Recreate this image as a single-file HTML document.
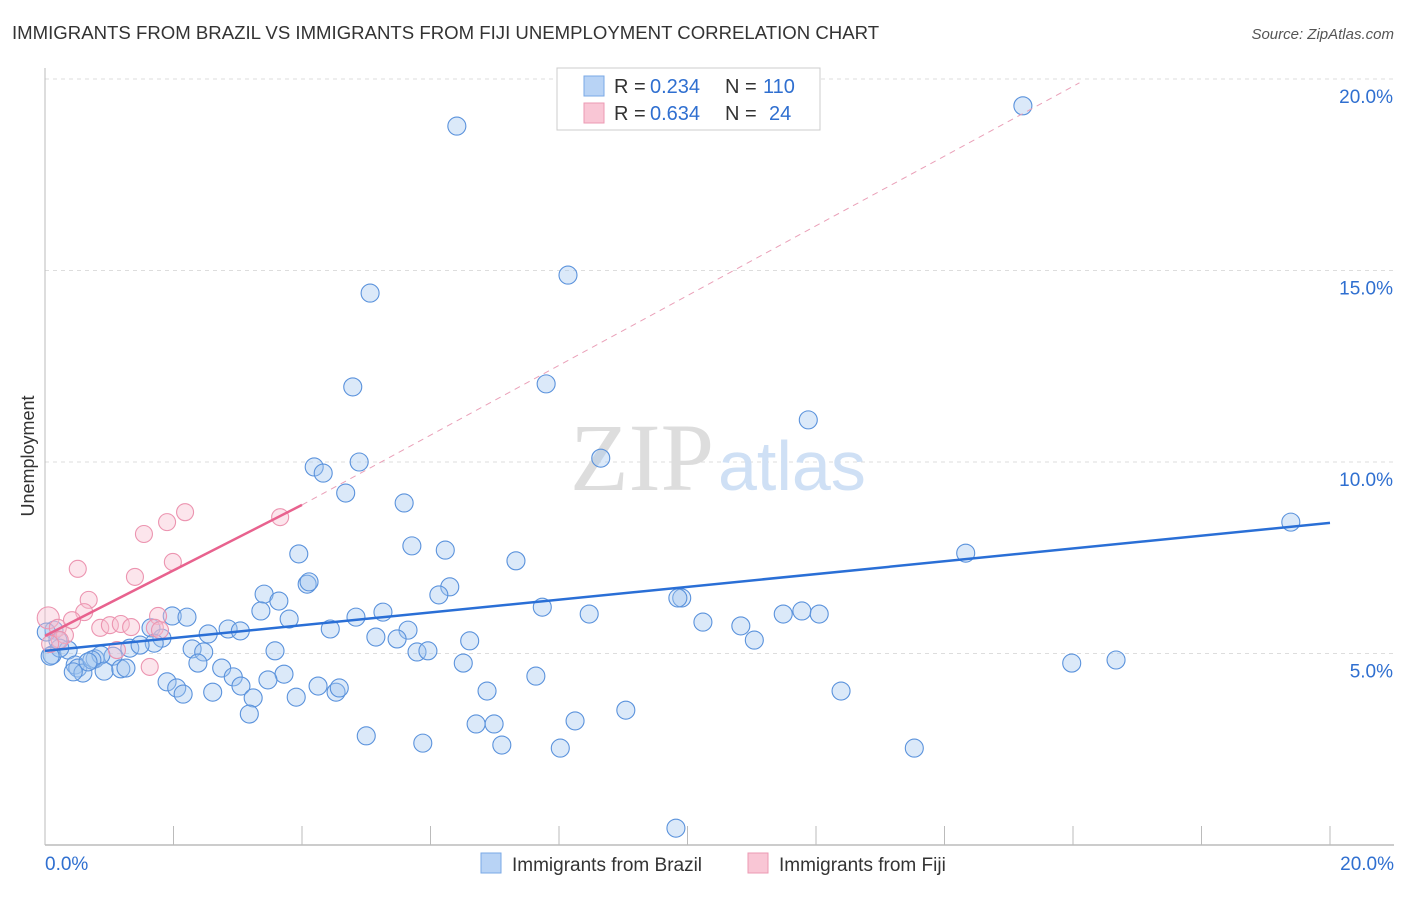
<!DOCTYPE html>
<html><head><meta charset="utf-8"><style>
body{margin:0;background:#fff;font-family:"Liberation Sans",sans-serif}
</style></head><body>
<svg id="chart" width="1406" height="892" xmlns="http://www.w3.org/2000/svg" font-family="Liberation Sans, sans-serif">
<text x="12" y="39" font-size="18.6" fill="#333">IMMIGRANTS FROM BRAZIL VS IMMIGRANTS FROM FIJI UNEMPLOYMENT CORRELATION CHART</text>
<text x="1394" y="39" font-size="15" fill="#555" font-style="italic" text-anchor="end">Source: ZipAtlas.com</text>
<text x="0" y="0" transform="translate(34,456) rotate(-90)" font-size="18" fill="#333" text-anchor="middle">Unemployment</text>
<g id="grid"></g>
<text x="714" y="490" font-size="96" fill="#ddd" font-family="Liberation Serif, serif" text-anchor="end">ZIP</text>
<text x="718" y="490" font-size="70" fill="#cfe0f5">atlas</text>
<g id="points"></g>
<g id="lines"></g>
<g>
<rect x="557" y="68" width="263" height="62" fill="#fff" stroke="#ccc"/>
<rect x="584" y="76" width="20" height="20" fill="#b8d3f5" stroke="#7aa8e6"/>
<rect x="584" y="103" width="20" height="20" fill="#f9c6d5" stroke="#ec9ab3"/>
<text y="93" font-size="20" fill="#333"><tspan x="614">R =</tspan><tspan x="650" fill="#2f6fd0">0.234</tspan><tspan x="725">N =</tspan><tspan x="763" fill="#2f6fd0">110</tspan></text>
<text y="120" font-size="20" fill="#333"><tspan x="614">R =</tspan><tspan x="650" fill="#2f6fd0">0.634</tspan><tspan x="725">N =</tspan><tspan x="769" fill="#2f6fd0">24</tspan></text>
</g>
<g>
<rect x="481" y="853" width="20" height="20" fill="#b8d3f5" stroke="#7aa8e6"/>
<text x="512" y="871" font-size="19" fill="#333">Immigrants from Brazil</text>
<rect x="748" y="853" width="20" height="20" fill="#f9c6d5" stroke="#ec9ab3"/>
<text x="779" y="871" font-size="19" fill="#333">Immigrants from Fiji</text>
</g>
</svg>
<script>
const xTicks=[0,2,4,6,8,10,12,14,16,18,20];
const yTicks=[5,10,15,20];
const yTickLabels=["5.0%","10.0%","15.0%","20.0%"];
const xEndLabels=["0.0%","20.0%"];
const brazilPx=[[457,126],[1023,106],[568,275],[370,293],[353,387],[546,384],[808,420],[601,458],[314,467],[323,473],[359,462],[346,493],[404,503],[1291,522],[412,546],[445,550],[299,554],[516,561],[966,553],[307,584],[309,582],[264,594],[279,601],[450,587],[439,595],[682,598],[678,598],[542,607],[589,614],[783,614],[802,611],[819,614],[261,611],[289,619],[356,617],[383,612],[172,616],[187,617],[703,622],[741,626],[330,629],[228,629],[240,631],[151,628],[208,634],[376,637],[408,630],[470,641],[754,640],[162,638],[154,643],[397,639],[54,630],[58,640],[130,648],[113,656],[192,649],[204,652],[275,651],[417,652],[428,651],[463,663],[1072,663],[1116,660],[95,659],[101,655],[52,655],[68,650],[60,648],[75,665],[78,668],[83,673],[73,672],[92,660],[104,671],[121,669],[126,668],[198,663],[222,668],[233,677],[284,674],[268,680],[241,686],[536,676],[167,682],[177,688],[183,694],[213,692],[253,698],[296,697],[318,686],[336,692],[339,688],[487,691],[841,691],[626,710],[249,714],[476,724],[494,724],[575,721],[366,736],[423,743],[502,745],[560,748],[914,748],[676,828],[50,656],[46,632],[140,645],[88,662]];
const fijiPx=[[48,618],[58,628],[65,635],[60,640],[50,644],[78,569],[89,600],[84,612],[72,620],[100,628],[110,625],[121,624],[135,577],[131,627],[144,534],[167,522],[173,562],[185,512],[280,517],[158,616],[155,628],[160,630],[150,667],[117,650]];
const brazilX=brazilPx.map(p=>+((p[0]-45)/64.25).toFixed(2));
const brazilY=brazilPx.map(p=>+((845-p[1])/38.3).toFixed(2));
const fijiX=fijiPx.map(p=>+((p[0]-45)/64.25).toFixed(2));
const fijiY=fijiPx.map(p=>+((845-p[1])/38.3).toFixed(2));
const brazilTrend=[5.07,8.41]; // y at x=0, x=20
const fijiTrend=[5.46,8.88];   // y at x=0, x=4
const fijiDashEnd=[16.1,19.9]; // dashed extension end (x,y)
const NS="http://www.w3.org/2000/svg";
const X=v=>45+v*64.25, Y=v=>845-v*38.3;
function mk(t,a,parent){const e=document.createElementNS(NS,t);for(const k in a)e.setAttribute(k,a[k]);parent.appendChild(e);return e;}
const grid=document.getElementById('grid');
yTicks.forEach((t,i)=>{
 const l=mk('line',{x1:45,x2:1394,y1:Y(t),y2:Y(t),stroke:'#ddd','stroke-dasharray':'4,4'},grid);
 
 
 const tx=mk('text',{x:1393,y:Y(t)+24,'font-size':19,fill:'#2f6fd0','text-anchor':'end'},grid);
 tx.textContent=yTickLabels[i];
 
 
});
const ax=mk('line',{x1:45,x2:1394,y1:845,y2:845,stroke:'#bbb','stroke-width':1.5},grid);


const ay=mk('line',{x1:45,x2:45,y1:68,y2:845,stroke:'#bbb','stroke-width':1},grid);


xTicks.forEach(t=>{const l=mk('line',{x1:X(t),x2:X(t),y1:826,y2:845,stroke:'#bbb'},grid);
 
 });
[[0,'start',45],[1,'end',1394]].forEach(([i,a,x])=>{const t=mk('text',{x:x,y:870,'font-size':19,fill:'#2f6fd0','text-anchor':a},grid);t.textContent=xEndLabels[i];
 
 });
const pts=document.getElementById('points');
brazilX.forEach((x,i)=>{const c=mk('circle',{cx:X(x),cy:Y(brazilY[i]),r:9,fill:'rgba(160,196,240,0.38)',stroke:'#5a92dc','stroke-width':1.1},pts);
 
 });
fijiX.forEach((x,i)=>{const c=mk('circle',{cx:X(x),cy:Y(fijiY[i]),r:i==0?11:8.5,fill:'rgba(248,190,208,0.4)',stroke:'#ec94b0','stroke-width':1.1},pts);
 
 });
const ln=document.getElementById('lines');
const b=mk('line',{x1:X(0),y1:Y(brazilTrend[0]),x2:X(20),y2:Y(brazilTrend[1]),stroke:'#2a6fd6','stroke-width':2.5},ln);


const f=mk('line',{x1:X(0),y1:Y(fijiTrend[0]),x2:X(4),y2:Y(fijiTrend[1]),stroke:'#e8628e','stroke-width':2.5},ln);


const fd=mk('line',{x1:X(4),y1:Y(fijiTrend[1]),x2:X(fijiDashEnd[0]),y2:Y(fijiDashEnd[1]),stroke:'#eaa0b8','stroke-width':1,'stroke-dasharray':'6,5'},ln);


</script>
</body></html>
